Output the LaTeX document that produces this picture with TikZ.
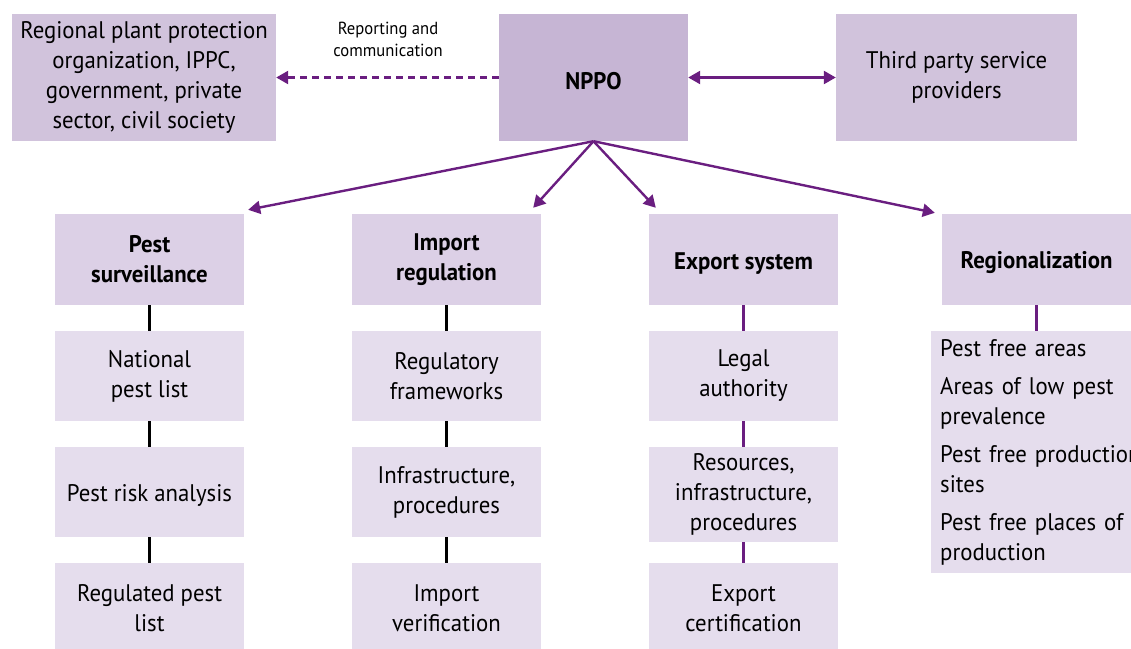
\documentclass[tikz,border=0pt]{standalone}
\usepackage{fontspec}
\setmainfont{PT Sans}[FakeStretch=0.95]
\usetikzlibrary{arrows.meta}
\definecolor{outerbox}{HTML}{D1C3DC}
\definecolor{centrebox}{HTML}{C6B5D4}
\definecolor{headbox}{HTML}{DCD0E6}
\definecolor{itembox}{HTML}{E5DDED}
\definecolor{ippcpurple}{HTML}{6A1E80}
\begin{document}
\begin{tikzpicture}[x=1pt,y=-1pt]
  \tikzset{box/.style = {shape=rectangle,inner sep=2pt,align=center,font=\fontsize{24}{30}\selectfont}}
  \tikzset{lifted/.style = {execute at begin node={\rule{0pt}{24pt}}}}
  \tikzset{topbox/.style = {box,lifted,fill=outerbox,minimum height=127pt}}
  \tikzset{head/.style = {box,lifted,fill=headbox,minimum width=189pt,minimum height=91pt,font=\fontsize{24}{30}\selectfont\bfseries}}
  \tikzset{item/.style = {box,lifted,fill=itembox,minimum width=189pt,minimum height=90pt}}
  \tikzset{listbox/.style = {box,fill=itembox,align=left}}
  \tikzset{arrow/.style = {draw=ippcpurple,line width=2.4pt,-{Triangle[length=12pt,width=13pt]}}}
  \tikzset{link/.style = {draw,line width=2.4pt}}
  \useasboundingbox (0,0) rectangle (1131,648);
	\node[topbox,minimum width=264pt] (rppo) at (144,77.5) {Regional plant protection\\organization, IPPC,\\government, private\\sector, civil society};
	\node[topbox,fill=centrebox,minimum width=189pt,font=\fontsize{24}{30}\selectfont\bfseries] (nppo) at (593.5,77.5) {NPPO};
	\node[topbox,minimum width=241pt] (third) at (956.5,77.5) {Third party service\\providers};
	\node[font=\fontsize{17.5}{22}\selectfont,align=center] (report) at (388,39) {Reporting and\\communication};
	
	\node[head] (surv) at (149.5,259.5) {Pest\\surveillance};
	\node[head] (imp) at (446.5,259.5) {Import\\regulation};
	\node[head] (exp) at (743.5,259.5) {Export system};
	\node[head] (regio) at (1036.5,259.5) {Regionalization};
	
	\node[item] (surv1) at (149.5,376) {National\\pest list};
	\node[item] (surv2) at (149.5,492) {Pest risk analysis};
	\node[item] (surv3) at (149.5,608) {Regulated pest\\list};
	
	\node[item] (imp1) at (446.5,376) {Regulatory\\frameworks};
	\node[item] (imp2) at (446.5,492) {Infrastructure,\\procedures};
	\node[item] (imp3) at (446.5,608) {Import\\verification};
	
	\node[item] (exp1) at (743.5,376) {Legal\\authority};
	\node[item,minimum height=95pt] (exp2) at (743.5,494.5) {Resources,\\infrastructure,\\procedures};
	\node[item] (exp3) at (743.5,608) {Export\\certification};
	
	\node[listbox,anchor=north west,text width=250pt,minimum height=240pt,inner xsep=9pt,inner ysep=8pt] (list) at (931,331) {Pest free areas\\[8pt]Areas of low pest\\prevalence\\[8pt]Pest free production\\sites\\[8pt]Pest free places of\\production};
	
	\draw[arrow,dashed,dash pattern=on 7pt off 5pt] (nppo.west) -- (rppo.east);
	\draw[arrow,{Triangle[length=12pt,width=13pt]}-{Triangle[length=12pt,width=13pt]}] (nppo.east) -- (third.west);
	
	\draw[arrow] (nppo.south) -- ([xshift=4pt,yshift=4pt]surv.north east);
	\draw[arrow] (nppo.south) -- ([xshift=-8pt,yshift=6pt]imp.north east);
	\draw[arrow] (nppo.south) -- ([xshift=7pt,yshift=6pt]exp.north west);
	\draw[arrow] (nppo.south) -- ([xshift=-7pt,yshift=1pt]regio.north west);
	
	\path[link] (surv) edge (surv1) (surv1) edge (surv2) (surv2) edge (surv3);
	\path[link] (imp) edge (imp1) (imp1) edge (imp2) (imp2) edge (imp3);
	\path[link,draw=ippcpurple] (exp) edge (exp1) (exp1) edge (exp2) (exp2) edge (exp3);
	\path[link,draw=ippcpurple] (regio.south) edge (regio.south |- list.north);
   
\end{tikzpicture}
\end{document}
